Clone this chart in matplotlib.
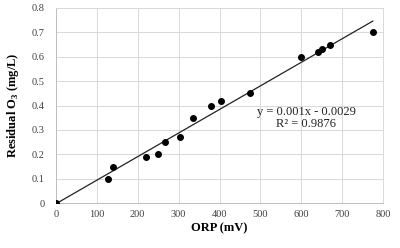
import matplotlib
matplotlib.use("Agg")
import matplotlib.pyplot as plt
import numpy as np

orp = [0, 127, 140, 220, 250, 267, 303, 335, 378, 403, 475, 600, 640, 650, 670, 775]
o3 = [0, 0.10, 0.15, 0.19, 0.20, 0.25, 0.27, 0.35, 0.40, 0.42, 0.45, 0.60, 0.62, 0.63, 0.65, 0.70]
eq_text = "y = 0.001x - 0.0029\nR² = 0.9876"

plt.rcParams['font.family'] = ['Liberation Serif', 'DejaVu Serif']
plt.rcParams['mathtext.fontset'] = 'custom'
plt.rcParams['mathtext.rm'] = 'Liberation Serif'
plt.rcParams['mathtext.bf'] = 'Liberation Serif:bold'
fig = plt.figure(figsize=(4, 2.48), dpi=100)
ax = fig.add_axes([0.14, 0.181, 0.8175, 0.787])

slope, inter = np.polyfit(orp, o3, 1)
xl = np.array([0, max(orp)])
ax.plot(xl, slope * xl + inter, color='#222222', lw=0.9, zorder=2)
ax.scatter(orp, o3, s=16, color='black', zorder=3)

ax.set_xlim(0, 800)
ax.set_ylim(0, 0.8)
ax.set_xticks(np.arange(0, 801, 100))
ax.set_yticks(np.arange(0, 0.81, 0.1))
ax.set_yticklabels(['0', '0.1', '0.2', '0.3', '0.4', '0.5', '0.6', '0.7', '0.8'])
ax.grid(True, color='#d9d9d9', lw=0.7)
ax.set_axisbelow(True)
ax.tick_params(length=0, labelsize=7.5, colors='#404040')
ax.tick_params(axis='y', pad=8)
ax.tick_params(axis='x', pad=5)
for s in ax.spines.values():
    s.set_color('#d9d9d9')
    s.set_linewidth(0.7)
ax.spines['left'].set_color('#bfbfbf')
ax.spines['bottom'].set_color('#bfbfbf')

ax.set_xlabel('ORP (mV)', fontsize=9, fontweight='bold', labelpad=2)
ax.set_ylabel(r'Residual O$_\mathbf{3}$ (mg/L)', fontsize=9, fontweight='bold', labelpad=8)
ax.text(612, 0.35, eq_text, ha='center', va='center', fontsize=9, color='#222222', linespacing=1.0)

fig.savefig('out.png', dpi=100)
